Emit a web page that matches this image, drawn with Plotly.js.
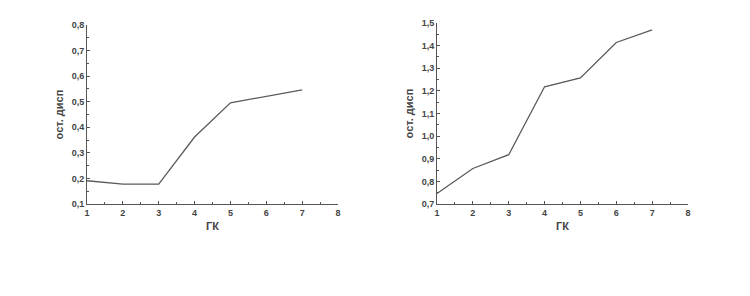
<!DOCTYPE html>
<html><head><meta charset="utf-8">
<script src="https://cdn.plot.ly/plotly-3.0.1.min.js"></script>
<style>html,body{margin:0;padding:0;background:#fff}#c{width:750px;height:296px}</style>
</head><body><div id="c"></div>
<script>
const gk = [1, 2, 3, 4, 5, 6, 7];
const leftValues = [0.191, 0.178, 0.178, 0.362, 0.496, 0.522, 0.546];
const rightValues = [0.746, 0.857, 0.918, 1.218, 1.257, 1.414, 1.470];
const xTitle = 'ГК';
const yTitle = 'ост. дисп';

const lineStyle = {color: '#5a5a5a', width: 1.3};
const traces = [
  {x: gk, y: leftValues, type: 'scatter', mode: 'lines', line: lineStyle, xaxis: 'x', yaxis: 'y'},
  {x: gk, y: rightValues, type: 'scatter', mode: 'lines', line: lineStyle, xaxis: 'x2', yaxis: 'y2'}
];
const fnt = {family: 'Liberation Sans, Arial, sans-serif', size: 9, color: '#444', weight: 600};
const tfnt = {family: 'Liberation Sans, Arial, sans-serif', size: 11, color: '#444', weight: 600};
function xa(domain, anchor) {
  return {domain: domain, anchor: anchor, range: [1, 8], dtick: 1, tick0: 1,
    showline: true, linecolor: '#555', linewidth: 1, ticks: 'inside', ticklen: 3, tickcolor: '#555',
    minor: {dtick: 0.5, ticks: 'inside', ticklen: 2, tickcolor: '#555'},
    showgrid: false, zeroline: false, tickfont: fnt,
    title: {text: xTitle, font: tfnt, standoff: 5}};
}
function ya(domain, anchor, range) {
  return {domain: domain, anchor: anchor, range: range, dtick: 0.1, tickformat: '.1f',
    showline: true, linecolor: '#555', linewidth: 1, ticks: 'inside', ticklen: 3, tickcolor: '#555',
    minor: {dtick: 0.05, ticks: 'inside', ticklen: 2, tickcolor: '#555'},
    showgrid: false, zeroline: false, tickfont: fnt,
    title: {text: yTitle, font: tfnt, standoff: 5}};
}
const W = 750, H = 296;
const layout = {
  width: W, height: H, showlegend: false, separators: ', ',
  paper_bgcolor: '#fff', plot_bgcolor: '#fff',
  margin: {l: 0, r: 0, t: 0, b: 0},
  xaxis: xa([87 / W, 338 / W], 'y'),
  yaxis: ya([1 - 204 / H, 1 - 25 / H], 'x', [0.1, 0.8]),
  xaxis2: xa([437 / W, 688 / W], 'y2'),
  yaxis2: ya([1 - 204 / H, 1 - 23 / H], 'x2', [0.7, 1.5])
};
Plotly.newPlot('c', traces, layout, {staticPlot: true});
</script></body></html>
